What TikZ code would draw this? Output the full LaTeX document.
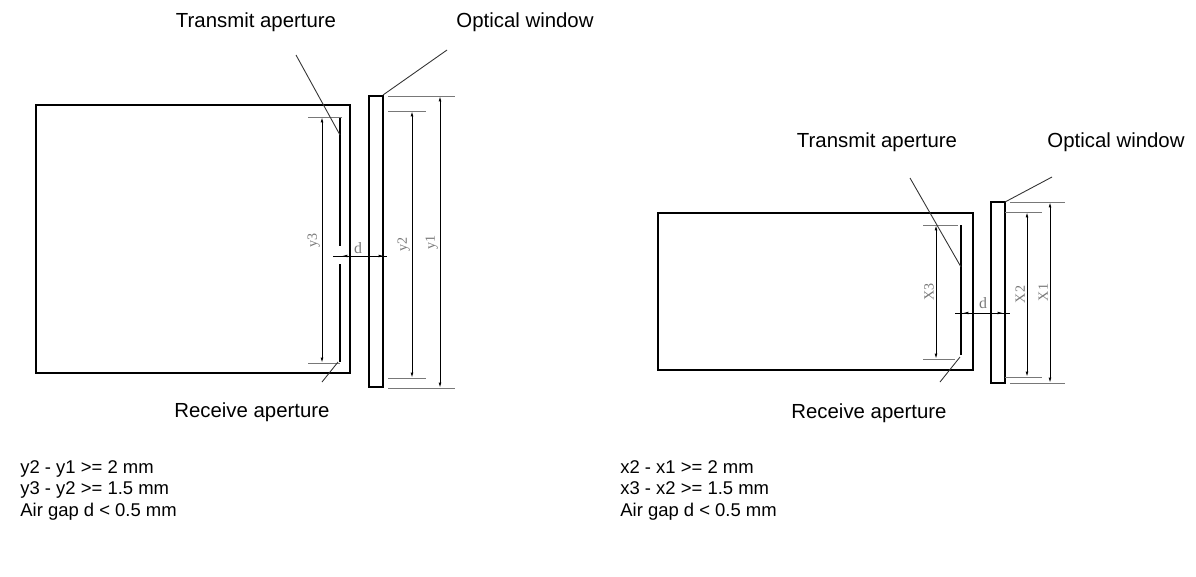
\documentclass[tikz,border=0pt]{standalone}
\usepackage{fontspec}
\setmainfont{Liberation Sans}
\newfontfamily\dimfont{Liberation Serif}
\usetikzlibrary{arrows.meta}
\definecolor{dimgrey}{RGB}{120,120,120}
\tikzset{
  body/.style={line width=1.4pt},
  slot/.style={line width=1.4pt},
  ext/.style={line width=0.5pt, dimgrey},
  dim/.style={line width=0.5pt, {Latex[length=3pt,width=1.5pt]}-{Latex[length=3pt,width=1.5pt]}},
  leader/.style={line width=0.5pt, black!80},
  dimlabel/.style={font=\dimfont\footnotesize, text=dimgrey, rotate=90, inner sep=1pt},
  label/.style={font=\fontsize{11.6}{14}\selectfont},
  note/.style={font=\fontsize{10.5}{12.2}\selectfont, align=left, anchor=north west, inner sep=0pt}
}
\begin{document}
\begin{tikzpicture}[x=0.02cm, y=-0.02cm]
\useasboundingbox (0,0) rectangle (1196,576);

% Left: vertical arrangement
\draw[body] (36,105) rectangle (350,373);
\draw[slot] (340,117) -- (340,246);
\draw[slot] (340,264) -- (340,362);
\draw[body] (369,96) rectangle (383,387);

% Dimensions y1, y2, y3
\draw[ext] (308,117) -- (342,117) (308,363) -- (340,363);
\draw[dim] (322,117) -- node[dimlabel, above] {y3} (322,363);
\draw[ext] (388,111) -- (426,111) (388,378) -- (426,378);
\draw[dim] (412,111) -- node[dimlabel, above] {y2} (412,378);
\draw[ext] (388,96) -- (455,96) (388,388) -- (455,388);
\draw[dim] (440,96) -- node[dimlabel, above] {y1} (440,388);
\draw[line width=0.5pt] (333,256) -- (387,256);
\draw[-{Latex[length=3pt,width=1.5pt]}] (348,256) -- (342,256);
\draw[-{Latex[length=3pt,width=1.5pt]}] (378,256) -- (384,256);
\node[font=\dimfont\small, text=dimgrey] (dl) at (358,248) {d};

% Labels and leaders
\node[label] (txl) at (256,22) {Transmit aperture};
\node[label] (owl) at (525,22) {Optical window};
\node[label] (rxl) at (252,412) {Receive aperture};
\draw[leader] (296,55) -- (340,135);
\draw[leader] (447,50) -- (383,95);
\draw[leader] (322,382) -- (338,362);
\node[note] (notel) at (20,460) {y2 - y1 >= 2 mm\\y3 - y2 >= 1.5 mm\\Air gap d < 0.5 mm};

% Right: horizontal arrangement
\draw[body] (658,213) rectangle (973,370);
\draw[slot] (961,225) -- (961,355);
\draw[body] (991,202) rectangle (1005,383);

% Dimensions x1, x2, x3
\draw[ext] (923,225) -- (958,225) (923,359) -- (955,359);
\draw[dim] (936,225) -- node[dimlabel, above] {X3} (936,359);
\draw[ext] (1005,212) -- (1042,212) (1005,377) -- (1042,377);
\draw[dim] (1027,212) -- node[dimlabel, above] {X2} (1027,377);
\draw[ext] (1010,202) -- (1065,202) (1010,383) -- (1065,383);
\draw[dim] (1050,202) -- node[dimlabel, above] {X1} (1050,383);
\draw[line width=0.5pt] (955,313) -- (1010,313);
\draw[-{Latex[length=3pt,width=1.5pt]}] (969,313) -- (963,313);
\draw[-{Latex[length=3pt,width=1.5pt]}] (997,313) -- (1003,313);
\node[font=\dimfont\small, text=dimgrey] (dr) at (983,303) {d};

% Labels and leaders
\node[label] (txr) at (877,142) {Transmit aperture};
\node[label] (owr) at (1116,142) {Optical window};
\node[label] (rxr) at (869,413) {Receive aperture};
\draw[leader] (910,178) -- (961,267);
\draw[leader] (1052,177) -- (1005,202);
\draw[leader] (940,382) -- (960,357);
\node[note] (noter) at (620,460) {x2 - x1 >= 2 mm\\x3 - x2 >= 1.5 mm\\Air gap d < 0.5 mm};
\end{tikzpicture}
\end{document}
